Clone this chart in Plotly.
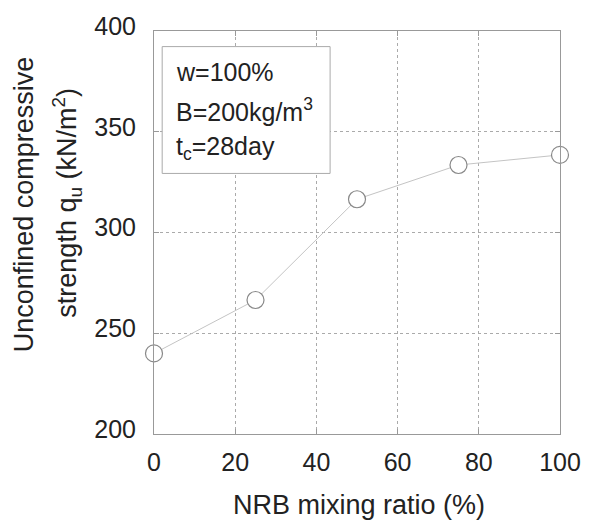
import plotly.graph_objects as go

mix_ratio = [0, 25, 50, 75, 100]
qu_values = [240, 266.5, 316.5, 333.5, 338.5]
x_ticks = [0, 20, 40, 60, 80, 100]
y_ticks = [200, 250, 300, 350, 400]

FONT = "Liberation Sans, Arial, sans-serif"
TXT = "#222222"

FIG_W, FIG_H = 593, 523
L, T, W, H = 154, 26.5, 412, 408  # reference plot-area in pixels


def px(xp):
    return (xp - L) / W


def py(yp):
    return (T + H - yp) / H


fig = go.Figure()
fig.add_trace(go.Scatter(
    x=mix_ratio, y=qu_values, mode="lines+markers",
    line=dict(color="#c4c4c4", width=1),
    marker=dict(symbol="circle", size=17, color="white",
                line=dict(color="#888888", width=1.2)),
    cliponaxis=False, showlegend=False,
))

axis_common = dict(
    showline=True, linecolor="#999999", linewidth=1, mirror="ticks",
    ticks="inside", ticklen=5, tickcolor="#999999", tickwidth=1,
    showgrid=True, gridcolor="#aaaaaa", griddash="dot", gridwidth=1,
    zeroline=False, tickfont=dict(family=FONT, size=25, color=TXT),
)

fig.update_xaxes(range=[0, 100], tickvals=x_ticks, ticklabelstandoff=6, **axis_common)
fig.update_yaxes(range=[200, 400], tickvals=y_ticks, ticklabelstandoff=12,
                 ticklabelshift=-5, **axis_common)

fig.update_layout(
    width=FIG_W, height=FIG_H,
    margin=dict(l=L, r=FIG_W - L - W, t=T, b=FIG_H - T - H),
    paper_bgcolor="white", plot_bgcolor="white",
)

fig.update_layout(annotations=[
    dict(text="NRB mixing ratio (%)", x=px(362), y=py(506), xref="paper", yref="paper",
         xanchor="center", yanchor="middle",
         showarrow=False, font=dict(family=FONT, size=27, color=TXT)),
    dict(text="Unconfined compressive", x=px(22), y=py(202), xref="paper", yref="paper",
         xanchor="center", yanchor="middle", textangle=-90,
         showarrow=False, font=dict(family=FONT, size=27, color=TXT)),
    dict(text="strength q<sub>u</sub> (kN/m<sup>2</sup>)", x=px(66), y=py(200), xref="paper", yref="paper",
         xanchor="center", yanchor="middle", textangle=-90,
         showarrow=False, font=dict(family=FONT, size=27, color=TXT)),
    dict(text="w=100%", x=px(174), y=py(68), xref="paper", yref="paper",
         xanchor="left", yanchor="middle",
         showarrow=False, font=dict(family=FONT, size=25, color=TXT)),
    dict(text="B=200kg/m<sup>3</sup>", x=px(174), y=py(106), xref="paper", yref="paper",
         xanchor="left", yanchor="middle",
         showarrow=False, font=dict(family=FONT, size=25, color=TXT)),
    dict(text="t<sub>c</sub>=28day", x=px(174), y=py(145), xref="paper", yref="paper",
         xanchor="left", yanchor="middle",
         showarrow=False, font=dict(family=FONT, size=25, color=TXT)),
])

fig.add_shape(type="rect", xref="paper", yref="paper",
              x0=px(162.3), x1=px(332.7), y0=py(170.7), y1=py(42.3),
              line=dict(color="#aaaaaa", width=1), fillcolor="white", layer="above")

fig.write_html(
    "out.html",
    config={"displayModeBar": False},
    post_script="document.body.style.margin='0';document.body.style.overflow='hidden';",
)
